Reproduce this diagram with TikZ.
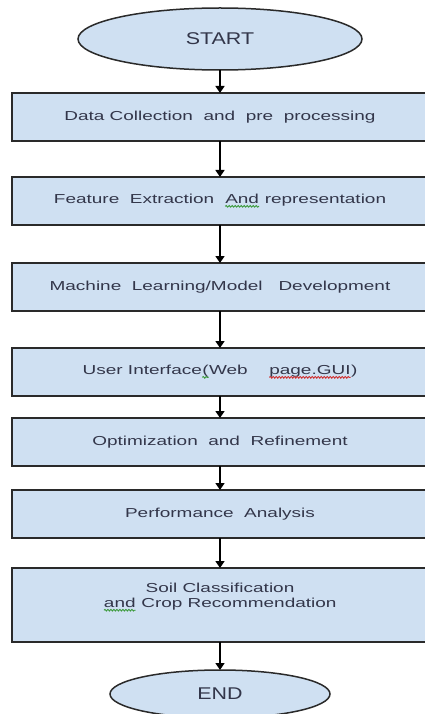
\documentclass[tikz,border=0pt]{standalone}
\usepackage{fontspec}
\setmainfont{Liberation Sans}
\newfontfamily\stagefont{Liberation Sans}[FakeStretch=1.46]
\newfontfamily\termfont{Liberation Sans}[FakeStretch=1.26]
\usetikzlibrary{arrows.meta,positioning,shapes.geometric,decorations.pathmorphing}
\definecolor{flowblue}{HTML}{CFE0F2}
\definecolor{flowline}{HTML}{2A2A2A}
\definecolor{flowtext}{HTML}{33364A}
\definecolor{squiggreen}{HTML}{3C9A3C}
\definecolor{squigred}{HTML}{D03030}
\newcommand{\squig}[2]{\tikz[baseline=(w.base)]{\node[rectangle,draw=none,fill=none,
inner sep=0pt,outer sep=0pt,minimum width=0pt,minimum height=0pt] (w) {#2};
\draw[draw=#1,line width=0.9pt,decorate,decoration={snake,amplitude=0.8pt,segment length=3pt}]
([yshift=-2.5pt]w.base west) -- ([yshift=-2.5pt]w.base east);}}

\begin{document}
\begin{tikzpicture}[
x=1pt,y=-1pt,
every node/.style={text=flowtext},
term/.style={ellipse,draw=flowline,line width=1.5pt,fill=flowblue,inner sep=0pt,outer sep=0pt,
font=\termfont\fontsize{17}{19}\selectfont},
stage/.style={rectangle,draw=flowline,line width=1.8pt,fill=flowblue,align=center,outer sep=0pt,
minimum width=416pt,minimum height=48pt,font=\stagefont\fontsize{13}{15}\selectfont},
arr/.style={-{Triangle[width=9pt,length=7pt]},line width=1.6pt,draw=black}
]
\useasboundingbox (0,0) rectangle (424,714);
\node[term,minimum width=284pt,minimum height=62pt] (start) at (220,39) {START};
\node[stage,below=23pt of start] (collect) {Data Collection\ \ and\ \ pre\ \ processing};
\node[stage,below=36pt of collect] (feature) {Feature\ \ Extraction\ \ \squig{squiggreen}{And} representation};
\node[stage,below=38pt of feature] (model) {Machine\ \ Learning/Model\ \ \ Development};
\node[stage,below=37pt of model] (ui) {User Interface\squig{squiggreen}{(}Web\ \ \ \ \squig{squigred}{page.GUI})};
\node[stage,below=22pt of ui] (optim) {Optimization\ \ and\ \ Refinement};
\node[stage,below=24pt of optim] (perf) {Performance\ \ Analysis};
\node[stage,below=30pt of perf,minimum height=74pt] (soil) {Soil Classification\\\squig{squiggreen}{and} Crop Recommendation\\[4pt]\mbox{}};
\node[term,below=28pt of soil,minimum width=220pt,minimum height=48pt] (end) {END};

\draw[arr] (start) -- (collect);
\draw[arr] (collect) -- (feature);
\draw[arr] (feature) -- (model);
\draw[arr] (model) -- (ui);
\draw[arr] (ui) -- (optim);
\draw[arr] (optim) -- (perf);
\draw[arr] (perf) -- (soil);
\draw[arr] (soil) -- (end);
\end{tikzpicture}
\end{document}
